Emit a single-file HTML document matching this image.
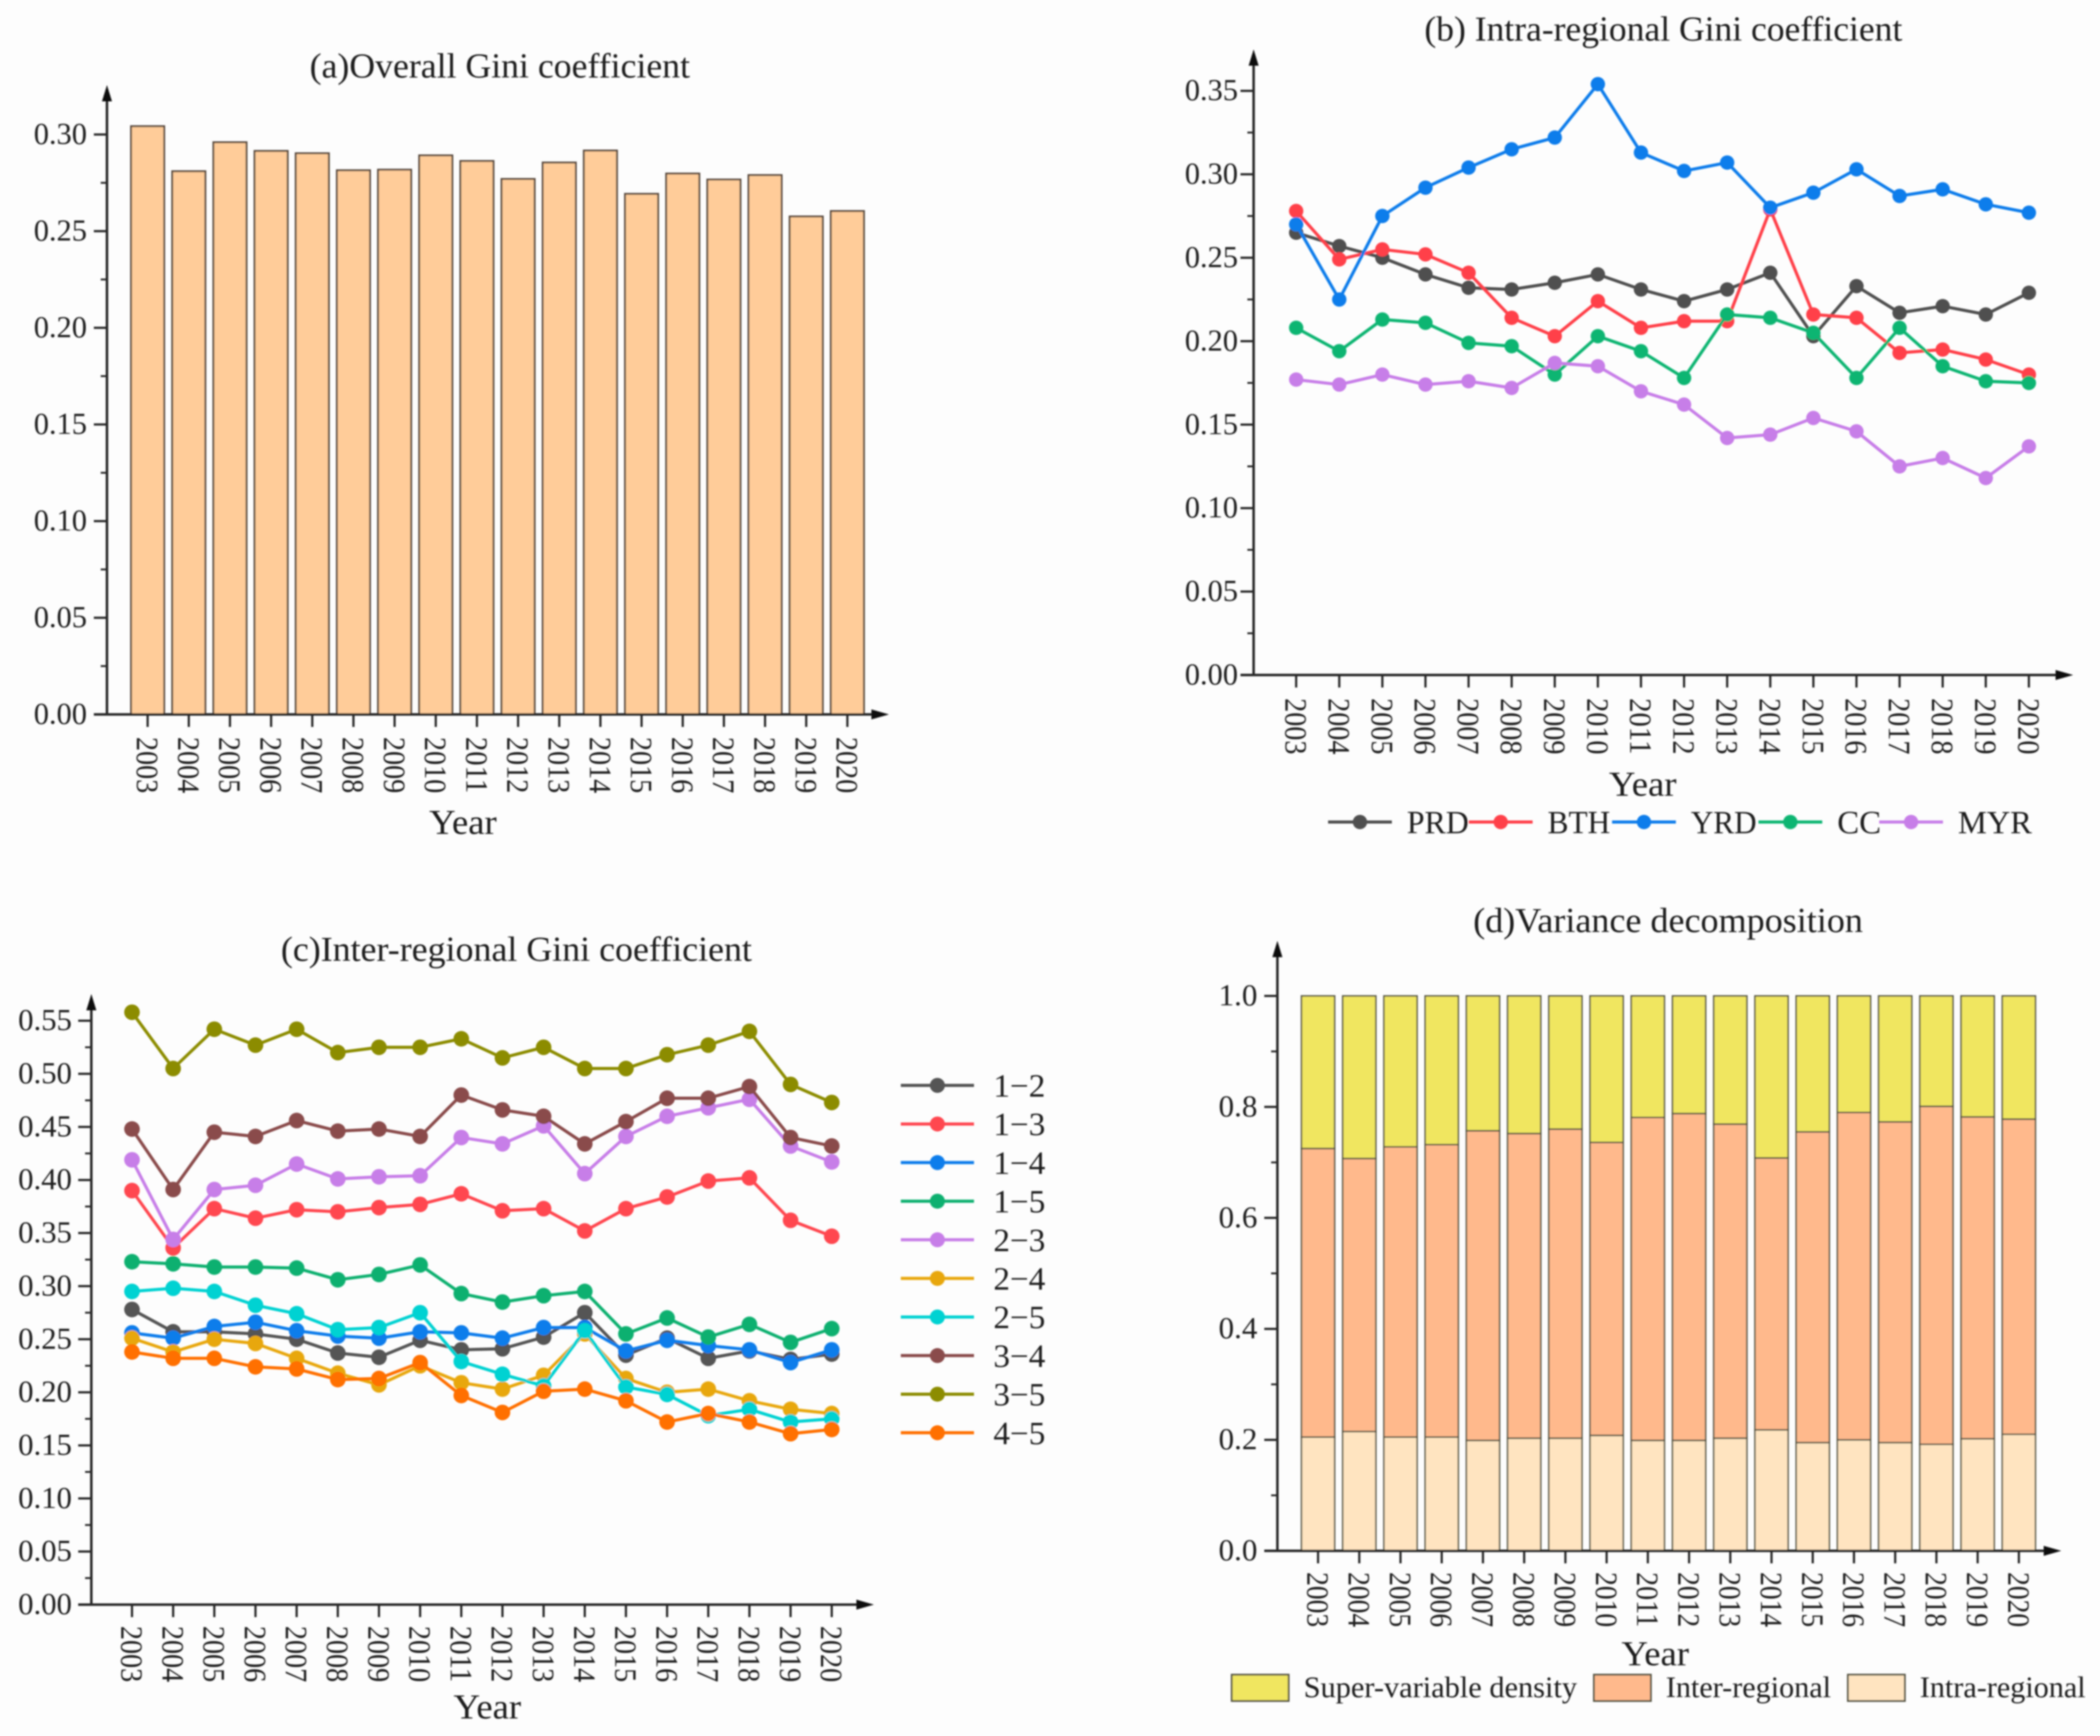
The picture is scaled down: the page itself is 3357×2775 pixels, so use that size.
<!DOCTYPE html>
<html lang="en">
<head>
<meta charset="utf-8">
<title>Gini coefficient charts</title>
<style>
html,body{margin:0;padding:0;background:#fdfdfd;}
svg{display:block;}
text{font-family:"Liberation Serif",serif;fill:#1c1c1c;}
</style>
</head>
<body>
<svg id="figure" xmlns="http://www.w3.org/2000/svg" width="3357" height="2775" viewBox="0 0 3357 2775">
<defs><filter id="soft" x="0" y="0" width="100%" height="100%"><feGaussianBlur stdDeviation="1.3"/></filter></defs>
<rect x="0" y="0" width="3357" height="2775" fill="#fdfdfd"/>
<g id="root" filter="url(#soft)">
<text x="495" y="124" font-size="56" textLength="608" lengthAdjust="spacingAndGlyphs">(a)Overall Gini coefficient</text>
<text x="2277" y="65" font-size="56" textLength="764" lengthAdjust="spacingAndGlyphs">(b) Intra-regional Gini coefficient</text>
<text x="449" y="1536" font-size="56" textLength="753" lengthAdjust="spacingAndGlyphs">(c)Inter-regional Gini coefficient</text>
<text x="2355" y="1490" font-size="56" textLength="623" lengthAdjust="spacingAndGlyphs">(d)Variance decomposition</text>
<text x="686" y="1333" font-size="56" textLength="108" lengthAdjust="spacingAndGlyphs">Year</text>
<text x="2572" y="1272" font-size="56" textLength="108" lengthAdjust="spacingAndGlyphs">Year</text>
<text x="725" y="2747" font-size="56" textLength="108" lengthAdjust="spacingAndGlyphs">Year</text>
<text x="2592" y="2662" font-size="56" textLength="108" lengthAdjust="spacingAndGlyphs">Year</text>
</g>
</svg>
<script>
const years = ['2003','2004','2005','2006','2007','2008','2009','2010','2011','2012','2013','2014','2015','2016','2017','2018','2019','2020'];

const overallGini = [0.3043,0.281,0.296,0.2915,0.2903,0.2815,0.2818,0.2892,0.2863,0.277,0.2855,0.2917,0.2693,0.2798,0.2767,0.279,0.2576,0.2604];
const ticksA = ['0.00','0.05','0.10','0.15','0.20','0.25','0.30'];

const prd = [0.265,0.257,0.25,0.24,0.232,0.231,0.235,0.24,0.231,0.224,0.231,0.241,0.203,0.233,0.217,0.221,0.216,0.229];
const bth = [0.278,0.249,0.255,0.252,0.241,0.214,0.203,0.224,0.208,0.212,0.212,0.279,0.216,0.214,0.193,0.195,0.189,0.18];
const yrd = [0.27,0.225,0.275,0.292,0.304,0.315,0.322,0.354,0.313,0.302,0.307,0.28,0.289,0.303,0.287,0.291,0.282,0.277];
const cc = [0.208,0.194,0.213,0.211,0.199,0.197,0.18,0.203,0.194,0.178,0.216,0.214,0.205,0.178,0.208,0.185,0.176,0.175];
const myr = [0.177,0.174,0.18,0.174,0.176,0.172,0.187,0.185,0.17,0.162,0.142,0.144,0.154,0.146,0.125,0.13,0.118,0.137];
const ticksB = ['0.00','0.05','0.10','0.15','0.20','0.25','0.30','0.35'];
const namesB = ['PRD','BTH','YRD','CC','MYR'];

const g12 = [0.278,0.257,0.257,0.255,0.25,0.237,0.233,0.249,0.24,0.241,0.252,0.275,0.235,0.251,0.232,0.239,0.231,0.236];
const g13 = [0.39,0.336,0.373,0.364,0.372,0.37,0.374,0.377,0.387,0.371,0.373,0.352,0.373,0.384,0.399,0.402,0.362,0.347];
const g14 = [0.256,0.251,0.262,0.266,0.258,0.253,0.251,0.257,0.256,0.251,0.261,0.261,0.239,0.249,0.244,0.24,0.228,0.24];
const g15 = [0.323,0.321,0.318,0.318,0.317,0.306,0.311,0.32,0.293,0.285,0.291,0.295,0.255,0.27,0.252,0.264,0.247,0.26];
const g23 = [0.419,0.344,0.391,0.395,0.415,0.401,0.403,0.404,0.44,0.434,0.451,0.406,0.441,0.46,0.468,0.476,0.432,0.417];
const g24 = [0.251,0.238,0.25,0.246,0.232,0.218,0.207,0.225,0.209,0.203,0.216,0.255,0.213,0.2,0.203,0.192,0.184,0.18];
const g25 = [0.295,0.298,0.295,0.282,0.274,0.259,0.261,0.275,0.229,0.217,0.206,0.258,0.205,0.198,0.178,0.184,0.172,0.175];
const g34 = [0.448,0.391,0.445,0.441,0.456,0.446,0.448,0.441,0.48,0.466,0.46,0.434,0.455,0.477,0.477,0.488,0.44,0.432];
const g35 = [0.558,0.505,0.542,0.527,0.542,0.52,0.525,0.525,0.533,0.515,0.525,0.505,0.505,0.518,0.527,0.54,0.49,0.473];
const g45 = [0.238,0.232,0.232,0.224,0.222,0.212,0.213,0.228,0.197,0.181,0.201,0.203,0.192,0.172,0.18,0.172,0.161,0.165];
const ticksC = ['0.00','0.05','0.10','0.15','0.20','0.25','0.30','0.35','0.40','0.45','0.50','0.55'];
const namesC = ['1−2','1−3','1−4','1−5','2−3','2−4','2−5','3−4','3−5','4−5'];

const intraShare = [0.205,0.215,0.205,0.205,0.199,0.203,0.203,0.208,0.199,0.199,0.203,0.218,0.195,0.2,0.195,0.192,0.202,0.21];
const interShare = [0.52,0.492,0.523,0.527,0.558,0.549,0.557,0.528,0.582,0.589,0.566,0.49,0.56,0.59,0.578,0.609,0.58,0.568];
const superShare = [0.275,0.293,0.272,0.268,0.243,0.248,0.24,0.264,0.219,0.212,0.231,0.292,0.245,0.21,0.227,0.199,0.218,0.222];
const ticksD = ['0.0','0.2','0.4','0.6','0.8','1.0'];
const namesD = ['Super-variable density','Inter-regional','Intra-regional'];

const NS = 'http://www.w3.org/2000/svg';
const root = document.getElementById('root');
const INK = '#262626';

function mk(tag, attrs, parent){
  const el = document.createElementNS(NS, tag);
  for (const k in attrs) el.setAttribute(k, attrs[k]);
  (parent || root).appendChild(el);
  return el;
}

function drawAxes(p){
  const g = mk('g', {});
  
  
  const yAxis = mk('line', {x1:p.x0, x2:p.x0, y1:p.y0, y2:p.top + 18, stroke:INK, 'stroke-width':4}, g);
  
  
  const xAxis = mk('line', {x1:p.x0 - 21, x2:p.right - 18, y1:p.y0, y2:p.y0, stroke:INK, 'stroke-width':4}, g);
  
  
  const upArrow = mk('polygon', {points:(p.x0-8)+','+(p.top+26)+' '+p.x0+','+p.top+' '+(p.x0+8)+','+(p.top+26), fill:'#111'}, g);
  
  
  const rightArrow = mk('polygon', {points:(p.right-28)+','+(p.y0-8)+' '+p.right+','+p.y0+' '+(p.right-28)+','+(p.y0+8), fill:'#111'}, g);
  
  

  p.ticks.forEach(function(label, i){
    const v = parseFloat(label);
    const yy = p.y(v);
    const tick = mk('line', {x1:p.x0 - 21, x2:p.x0, y1:yy, y2:yy, stroke:INK, 'stroke-width':3.5}, g);
    
    
    const t = mk('text', {x:p.labelRight, y:yy + 15, 'text-anchor':'end', 'font-size':49, textLength:p.labelW, lengthAdjust:'spacingAndGlyphs'}, g);
    t.textContent = label;
    
    
    if (i < p.ticks.length - 1){
      const ym = p.y(v + p.step / 2);
      const minor = mk('line', {x1:p.x0 - 10, x2:p.x0, y1:ym, y2:ym, stroke:INK, 'stroke-width':3}, g);
      
      
    }
  });

  years.forEach(function(label, i){
    const xx = p.x(i);
    const tick = mk('line', {x1:xx, x2:xx, y1:p.y0, y2:p.y0 + 20, stroke:INK, 'stroke-width':3.5}, g);
    
    
    const lx = xx - 17, ly = p.labelTop;
    const t = mk('text', {x:lx, y:ly, 'font-size':50, textLength:p.xLabelLen, lengthAdjust:'spacingAndGlyphs', transform:'rotate(90 '+lx+' '+ly+')'}, g);
    t.textContent = label;
    
    
  });
}

function panel(o){
  o.x = function(i){ return o.first + i * o.dx; };
  o.y = function(v){ return o.y0 - v * o.k; };
  return o;
}

/* ---------- panel a ---------- */
const pa = panel({id:'panel-a', x0:171, y0:1142, top:136, right:1421, first:236, dx:65.8, k:3090, step:0.05, ticks:ticksA, labelRight:139, labelW:85, labelTop:1178, xLabelLen:90});
overallGini.forEach(function(v, i){
  const bar = mk('rect', {x:pa.x(i) - 26.5, y:pa.y(v), width:53, height:v * pa.k, fill:'#FFCC99', stroke:'#5a4c40', 'stroke-width':3});
  
  
});
drawAxes(pa);

/* ---------- line panels ---------- */
function drawLine(p, values, color, name, r, w){
  const g = mk('g', {});
  
  
  const pts = values.map(function(v, i){ return p.x(i).toFixed(1) + ',' + p.y(v).toFixed(1); }).join(' ');
  const line = mk('polyline', {points:pts, fill:'none', stroke:color, 'stroke-width':w, 'stroke-linejoin':'round'}, g);
  
  
  values.forEach(function(v, i){
    const c = mk('circle', {cx:p.x(i), cy:p.y(v), r:r, fill:color}, g);
    
    
  });
}

function legendLine(x1, x2, y, color, label, textX, textW, fontSize, baseline, r){
  const g = mk('g', {});
  
  
  const l = mk('line', {x1:x1, x2:x2, y1:y, y2:y, stroke:color, 'stroke-width':5}, g);
  
  
  const c = mk('circle', {cx:(x1 + x2) / 2, cy:y, r:r, fill:color}, g);
  
  
  const t = mk('text', {x:textX, y:baseline, 'font-size':fontSize, textLength:textW, lengthAdjust:'spacingAndGlyphs'}, g);
  t.textContent = label;
  
  
}

/* panel b */
const pb = panel({id:'panel-b', x0:2004, y0:1079, top:79, right:3314, first:2072, dx:68.9, k:2668, step:0.05, ticks:ticksB, labelRight:1979, labelW:85, labelTop:1116, xLabelLen:90});
drawAxes(pb);
const colorsB = ['#505050','#FF3F4A','#0F7DEB','#0AB572','#C77EE8'];
[prd, bth, yrd, cc, myr].forEach(function(series, i){
  drawLine(pb, series, colorsB[i], 'series-' + namesB[i], 11.5, 5);
});
const legendBLeft = [2123, 2348, 2577, 2811, 3004];
const legendBTextW = [99, 100, 105, 70, 118];
namesB.forEach(function(n, i){
  legendLine(legendBLeft[i], legendBLeft[i] + 102, 1314, colorsB[i], n, legendBLeft[i] + 126, legendBTextW[i], 52, 1332, 11.5);
});

/* panel c */
const pc = panel({id:'panel-c', x0:146, y0:2565, top:1589, right:1397, first:211, dx:65.8, k:1697, step:0.05, ticks:ticksC, labelRight:115, labelW:86, labelTop:2599, xLabelLen:90});
drawAxes(pc);
const colorsC = ['#555555','#FF4650','#0F7DEB','#0AB070','#C77EE8','#E8A70F','#00D2D2','#8A4B4B','#8C8C00','#FF7000'];
[g12, g13, g14, g15, g23, g24, g25, g34, g35, g45].forEach(function(series, i){
  drawLine(pc, series, colorsC[i], 'series-' + namesC[i], 12.5, 5);
});
namesC.forEach(function(n, i){
  const yy = 1735 + i * 61.7;
  legendLine(1440, 1557, yy, colorsC[i], n, 1588, 83, 52, yy + 18, 12);
});

/* panel d */
const pd = panel({id:'panel-d', x0:2042, y0:2479, top:1504, right:3295, first:2107, dx:65.9, k:887, step:0.2, ticks:ticksD, labelRight:2010, labelW:62, labelTop:2513, xLabelLen:88});
const colorsD = ['#F0E660','#FFB98C','#FFE4C0'];
years.forEach(function(yr, i){
  const base = [intraShare[i], interShare[i], superShare[i]];
  let cum = 0;
  [2, 1, 0].forEach(function(c, j){
    const h = base[j] * pd.k;
    const r = mk('rect', {x:pd.x(i) - 26.5, y:pd.y(cum + base[j]), width:53, height:h, fill:colorsD[c], stroke:'#5a5a48', 'stroke-width':2.5});
    
    
    cum += base[j];
  });
});
drawAxes(pd);
const legendDLeft = [1969, 2548, 2954];
const legendDTextW = [437, 264, 265];
namesD.forEach(function(n, i){
  const g = mk('g', {});
  
  
  const s = mk('rect', {x:legendDLeft[i], y:2677, width:91, height:42, fill:colorsD[i], stroke:'#5a5a48', 'stroke-width':3}, g);
  
  
  const t = mk('text', {x:legendDLeft[i] + 115, y:2713, 'font-size':48, textLength:legendDTextW[i], lengthAdjust:'spacingAndGlyphs'}, g);
  t.textContent = n;
  
  
});
</script>
</body>
</html>
